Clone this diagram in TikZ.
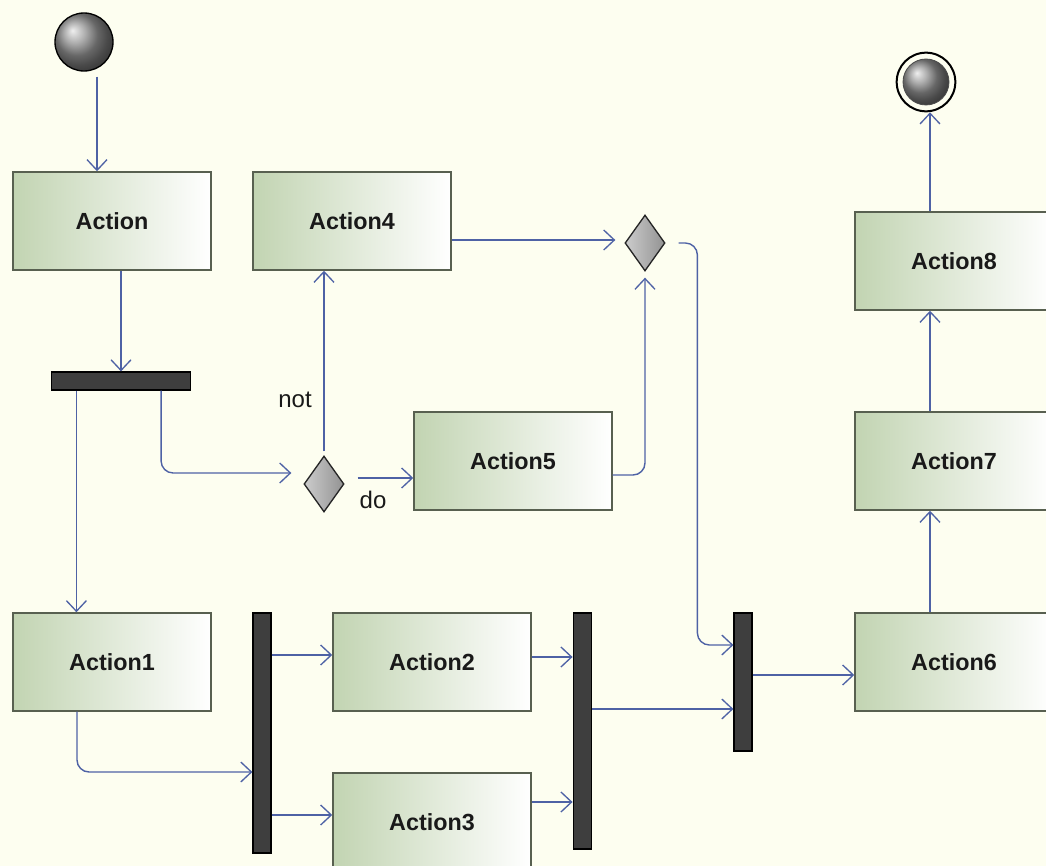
\documentclass[tikz,border=0pt]{standalone}
\usepackage{fontspec}
\setmainfont{Liberation Sans}
\usetikzlibrary{arrows.meta,calc,shapes.geometric}

\definecolor{bg}{RGB}{253,254,240}
\definecolor{flowblue}{RGB}{78,98,165}
\definecolor{boxgreen}{RGB}{194,212,178}
\definecolor{boxedge}{RGB}{88,96,80}
\definecolor{barfill}{RGB}{62,62,62}

\tikzset{
  action/.style={draw=boxedge, line width=1.1pt, left color=boxgreen, right color=white,
    minimum width=148.5pt, minimum height=73.5pt, inner sep=0pt,
    font=\fontsize{17.5}{20}\selectfont\bfseries, text=black!90},
  syncbar/.style={rectangle, draw=black, fill=barfill, line width=0.9pt, inner sep=0pt},
  decision/.style={diamond, draw=black!85, line width=1pt, left color=gray!40, right color=gray!85,
    minimum width=30pt, minimum height=42pt, inner sep=0pt},
  startnode/.style={circle, draw=black, line width=1pt, ball color=gray!85, minimum size=43.5pt, inner sep=0pt},
  endring/.style={circle, draw=black, line width=1.5pt, fill=bg, minimum size=44pt, inner sep=0pt},
  endcore/.style={circle, draw=black!70, line width=0.6pt, ball color=gray!85, minimum size=34.5pt, inner sep=0pt},
  flow/.style={draw=flowblue, line width=1.05pt, -{Straight Barb[length=8pt,width=15pt,line width=1pt]}},
  guard/.style={font=\fontsize{18}{21}\selectfont, text=black!90, inner sep=0pt}
}

\begin{document}
\begin{tikzpicture}[x=0.75pt, y=-0.75pt]
  \useasboundingbox (0,0) rectangle (1046,866);
  \clip (0,0) rectangle (1046,866);
  \fill[bg] (0,0) rectangle (1046,866);

  % nodes
  \node[startnode] (init) at (84,42) {};
  \node[action] (act)  at (112,221) {Action};
  \node[action] (act4) at (352,221) {Action4};
  \node[syncbar, minimum width=104.25pt, minimum height=13.5pt] (fork1) at (121,381) {};
  \node[decision] (d1) at (324,484) {};
  \node[action] (act5) at (513,461) {Action5};
  \node[decision] (d2) at (645,243) {};
  \node[action] (act1) at (112,662) {Action1};
  \node[syncbar, minimum width=13.5pt, minimum height=180pt] (bar1) at (262,733) {};
  \node[action] (act2) at (432,662) {Action2};
  \node[action] (act3) at (432,822) {Action3};
  \node[syncbar, minimum width=14pt, minimum height=177pt] (bar2) at (582.5,731) {};
  \node[syncbar, minimum width=13.5pt, minimum height=103.5pt] (bar3) at (743,682) {};
  \node[action] (act6) at (954,662) {Action6};
  \node[action] (act7) at (954,461) {Action7};
  \node[action] (act8) at (954,261) {Action8};
  \node[endring] (final) at (926,82) {};
  \node[endcore] (finalc) at (final.center) {};

  \node[guard] (lnot) at (295,400) {not};
  \node[guard] (ldo)  at (373,500) {do};

  % control flows
  \draw[flow] ($(init.south)+(13,5)$) coordinate (s0) -- (s0 |- act.north);
  \draw[flow] (act.south -| fork1.north) -- (fork1.north);
  \draw[flow] ($(fork1.south west)+(25.5,0)$) coordinate (s1) -- (s1 |- act1.north);
  \draw[flow, rounded corners=9pt] ($(fork1.south east)+(-30,0)$) |- ($(d1.west)+(-12,-11)$);
  \draw[flow] ($(d1.north)+(0,-4)$) coordinate (s2) -- (s2 |- act4.south);
  \draw[flow] ($(d1.east)+(13,-6)$) coordinate (s3) -- (s3 -| act5.west);
  \draw[flow] ($(act4.east)+(0,19)$) -- ($(d2.west)+(-9,-3)$);
  \draw[flow, rounded corners=9pt] ($(act5.east)+(0,14)$) -| ($(d2.south)+(0,6)$);
  \draw[flow, rounded corners=9pt] ($(d2.east)+(13,0)$) -| ($(bar3.west)+(-36,-37)$) -- ($(bar3.west)+(0,-37)$);
  \draw[flow, rounded corners=9pt] ($(act1.south)+(-35,0)$) |- ($(bar1.west)+(0,39)$);
  \draw[flow] ($(bar1.east |- act2.west)+(0,-7)$) -- ($(act2.west)+(0,-7)$);
  \draw[flow] ($(bar1.east |- act3.west)+(0,-7)$) -- ($(act3.west)+(0,-7)$);
  \draw[flow] ($(act2.east)+(0,-5)$) coordinate (s4) -- (s4 -| bar2.west);
  \draw[flow] ($(act3.east)+(0,-20)$) coordinate (s5) -- (s5 -| bar2.west);
  \draw[flow] ($(bar2.east)+(0,-22)$) coordinate (s6) -- (s6 -| bar3.west);
  \draw[flow] ($(bar3.east)+(0,-7)$) coordinate (s7) -- (s7 -| act6.west);
  \draw[flow] ($(act6.north)+(-24,0)$) coordinate (s8) -- (s8 |- act7.south);
  \draw[flow] ($(act7.north)+(-24,0)$) coordinate (s9) -- (s9 |- act8.south);
  \draw[flow] ($(act8.north)+(-24,0)$) coordinate (s10) -- (s10 |- final.south);
\end{tikzpicture}
\end{document}
